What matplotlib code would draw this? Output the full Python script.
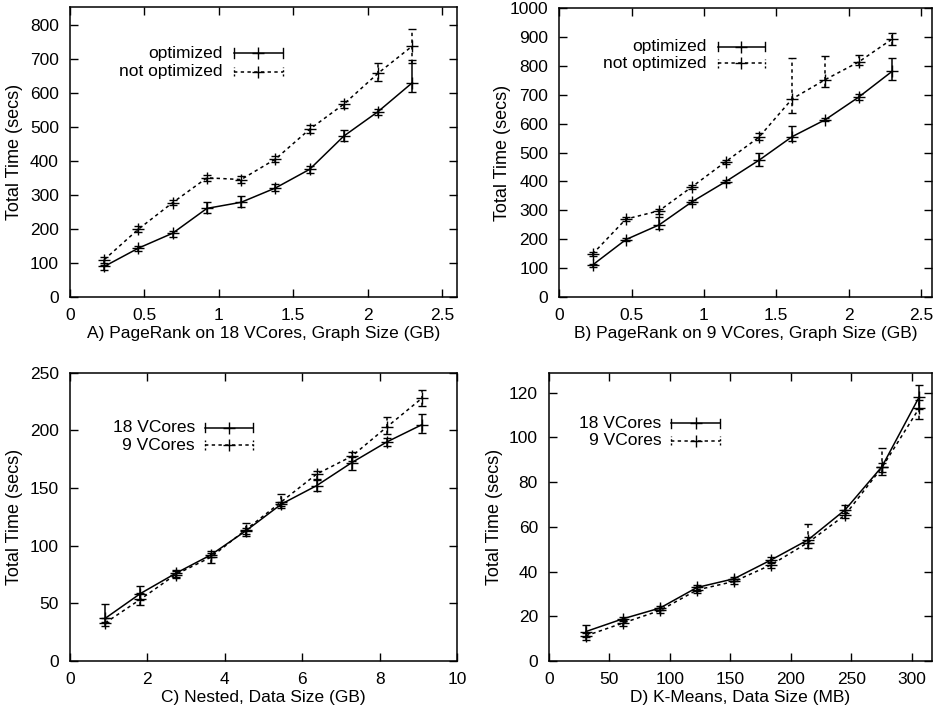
import matplotlib.pyplot as plt

plt.rcParams['font.family'] = ['Liberation Sans', 'DejaVu Sans']

# --- data ---
size_gb = [0.23, 0.46, 0.69, 0.92, 1.15, 1.38, 1.61, 1.84, 2.07, 2.30]

a_opt = [89, 143, 187, 260, 278, 320, 375, 473, 545, 630]
a_opt_lo = [79, 136, 177, 246, 264, 310, 364, 459, 535, 602]
a_opt_hi = [94, 150, 194, 280, 297, 331, 386, 491, 553, 697]
a_not = [109, 199, 277, 350, 345, 405, 493, 567, 658, 738]
a_not_lo = [99, 191, 269, 342, 335, 397, 483, 557, 636, 687]
a_not_hi = [116, 207, 286, 358, 355, 413, 506, 577, 688, 787]

b_opt = [110, 198, 249, 330, 399, 473, 555, 614, 692, 781]
b_opt_lo = [104, 192, 235, 323, 394, 453, 540, 608, 683, 753]
b_opt_hi = [115, 203, 275, 336, 404, 499, 591, 619, 703, 827]
b_not = [148, 269, 298, 382, 468, 553, 686, 753, 814, 893]
b_not_lo = [142, 263, 287, 375, 460, 542, 637, 727, 802, 873]
b_not_hi = [154, 275, 305, 389, 475, 568, 827, 835, 837, 916]

nested_gb = [0.91, 1.82, 2.73, 3.64, 4.55, 5.46, 6.37, 7.28, 8.19, 9.10]
c_18 = [37, 58.5, 76, 92, 113, 136, 152, 172, 190, 205]
c_18_lo = [34, 53, 73, 90, 110, 133, 147, 166, 186, 198]
c_18_hi = [49, 65, 79, 94, 115, 138, 157, 177, 193, 214]
c_9 = [33, 53.5, 75, 90, 114, 138, 162, 177.5, 203, 228]
c_9_lo = [30, 48.5, 72, 85, 108, 134, 158, 173, 197, 221]
c_9_hi = [37, 59, 78, 95, 120, 145, 165, 181.5, 212, 235]

kmeans_mb = [30.6, 61.2, 91.8, 122.4, 153, 183.6, 214.2, 244.8, 275.4, 306]
d_18 = [13.2, 18.9, 23.7, 32.9, 36.8, 45.2, 54.2, 67.6, 87, 118]
d_18_lo = [10.7, 17.8, 22.8, 31.5, 36, 43.7, 53, 66, 84.7, 112.8]
d_18_hi = [15.9, 19.9, 24.5, 34.2, 37.6, 46.7, 55.4, 69.8, 88.4, 123.4]
d_9 = [11.3, 17, 22.6, 31.8, 35.6, 43, 53, 65.3, 86.6, 113]
d_9_lo = [9.5, 15.5, 21.5, 30.4, 34.5, 41.5, 50.4, 63.8, 83, 108.4]
d_9_hi = [12.5, 18.4, 23.7, 33, 36.8, 44.5, 61.3, 67.5, 95.5, 116.7]

DOT = (0, (2.2, 2.2))
FS = 12.5


def series(ax, x, y, lo, hi, dotted):
    yerr = [[v - l for v, l in zip(y, lo)], [h - v for v, h in zip(y, hi)]]
    ls = DOT if dotted else '-'
    eb = ax.errorbar(x, y, yerr=yerr, color='black', lw=1.1, ls=ls,
                     marker='+', ms=8, mew=1.0, capsize=3, capthick=1.0,
                     elinewidth=1.1)
    if dotted:
        eb[2][0].set_linestyle(DOT)


def key(ax, tx, ty, label, x0, x1, dotted):
    ax.text(tx, ty, label, transform=ax.transAxes, ha='right', va='center',
            fontsize=FS)
    ls = DOT if dotted else '-'
    ax.plot([x0, x1], [ty, ty], transform=ax.transAxes, color='black',
            lw=1.1, ls=ls)
    ax.plot([(x0 + x1) / 2], [ty], transform=ax.transAxes, color='black',
            marker='+', ms=8, mew=1.0)
    for xe in (x0, x1):
        ax.plot([xe, xe], [ty - 0.016, ty + 0.016], transform=ax.transAxes,
                color='black', lw=1.0, ls=(0, (1.5, 1.5)) if dotted else '-')


def style(ax, xlim, ylim, xticks, yticks, xlabel, ylab_x):
    ax.set_xlim(*xlim)
    ax.set_ylim(*ylim)
    ax.set_xticks(xticks)
    ax.set_yticks(yticks)
    ax.tick_params(direction='in', top=True, right=True, length=6,
                   width=1.0, labelsize=FS, pad=8)
    for s in ax.spines.values():
        s.set_linewidth(1.1)
    ax.set_xlabel(xlabel, fontsize=FS, labelpad=2)
    ax.set_ylabel('Total Time (secs)', fontsize=13)
    ax.yaxis.set_label_coords(ylab_x, 0.5)


fig = plt.figure(figsize=(9.38, 7.16), dpi=100)

axA = fig.add_axes([0.0746, 0.5856, 0.4126, 0.4042])
series(axA, size_gb, a_opt, a_opt_lo, a_opt_hi, False)
series(axA, size_gb, a_not, a_not_lo, a_not_hi, True)
style(axA, (0, 2.6), (0, 852), [0, 0.5, 1, 1.5, 2, 2.5],
      range(0, 801, 100), 'A) PageRank on 18 VCores, Graph Size (GB)', -0.121)
axA.set_xticklabels(['0', '0.5', '1', '1.5', '2', '2.5'])
key(axA, 0.395, 0.842, 'optimized', 0.424, 0.55, False)
key(axA, 0.395, 0.777, 'not optimized', 0.424, 0.55, True)

axB = fig.add_axes([0.5963, 0.5856, 0.397, 0.4028])
series(axB, size_gb, b_opt, b_opt_lo, b_opt_hi, False)
series(axB, size_gb, b_not, b_not_lo, b_not_hi, True)
style(axB, (0, 2.575), (0, 1000), [0, 0.5, 1, 1.5, 2, 2.5],
      range(0, 1001, 100), 'B) PageRank on 9 VCores, Graph Size (GB)', -0.13)
axB.set_xticklabels(['0', '0.5', '1', '1.5', '2', '2.5'])
key(axB, 0.396, 0.867, 'optimized', 0.425, 0.553, False)
key(axB, 0.396, 0.809, 'not optimized', 0.425, 0.553, True)

axC = fig.add_axes([0.0746, 0.0768, 0.4126, 0.4027])
series(axC, nested_gb, c_18, c_18_lo, c_18_hi, False)
series(axC, nested_gb, c_9, c_9_lo, c_9_hi, True)
style(axC, (0, 10), (0, 250), range(0, 11, 2), range(0, 251, 50),
      'C) Nested, Data Size (GB)', -0.121)
key(axC, 0.323, 0.809, '18 VCores', 0.349, 0.474, False)
key(axC, 0.323, 0.749, '9 VCores', 0.349, 0.474, True)

axD = fig.add_axes([0.5853, 0.0768, 0.408, 0.4027])
series(axD, kmeans_mb, d_18, d_18_lo, d_18_hi, False)
series(axD, kmeans_mb, d_9, d_9_lo, d_9_hi, True)
style(axD, (0, 316.5), (0, 129), range(0, 301, 50), range(0, 121, 20),
      'D) K-Means, Data Size (MB)', -0.12)
key(axD, 0.294, 0.825, '18 VCores', 0.320, 0.448, False)
key(axD, 0.294, 0.764, '9 VCores', 0.320, 0.448, True)

fig.savefig('out.png', dpi=100)
